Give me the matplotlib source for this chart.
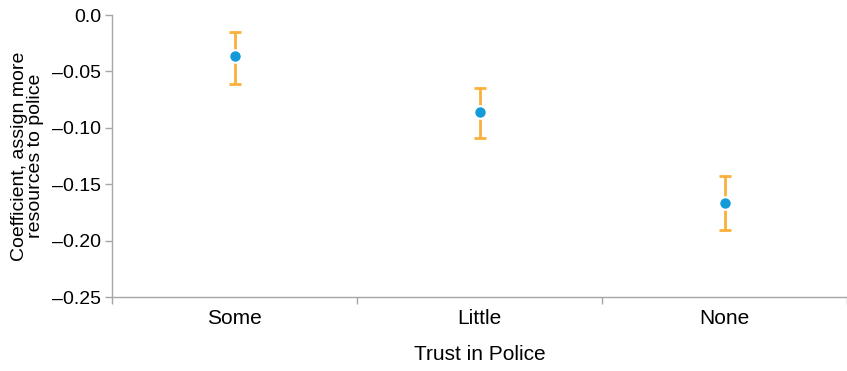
import matplotlib
matplotlib.use('Agg')
import matplotlib.pyplot as plt
import numpy as np

plt.rcParams.update({
    'font.family': ['Liberation Sans', 'DejaVu Sans'],
    'font.size': 15,
    'axes.linewidth': 1.0,
})

# Data
categories = ['Some', 'Little', 'None']
coef = [-0.036, -0.086, -0.167]
ci_low = [-0.061, -0.109, -0.191]
ci_high = [-0.015, -0.065, -0.143]

point_color = '#139bd8'
bar_color = '#fbb03b'
axis_color = '#a6a6a6'

fig = plt.figure(figsize=(8.47, 3.71), dpi=100)
ax = fig.add_axes([112 / 847, 1 - 297 / 371, 735 / 847, (297 - 15) / 371])

x = np.arange(len(categories))
coef_arr = np.array(coef)
yerr = [coef_arr - np.array(ci_low), np.array(ci_high) - coef_arr]

ax.errorbar(x, coef, yerr=yerr, fmt='none', ecolor=bar_color,
            elinewidth=2, capsize=4.5, capthick=2, zorder=2)
ax.plot(x, coef, 'o', color=point_color, markersize=9,
        markeredgecolor='white', markeredgewidth=1.5, zorder=3)

ax.set_xlim(-0.5, len(categories) - 0.5)
ax.set_ylim(-0.25, 0.0)

# category labels centered, small ticks at the boundaries
ax.set_xticks(x)
ax.set_xticklabels(categories)
ax.set_xticks(np.arange(len(categories) + 1) - 0.5, minor=True)
ax.tick_params(axis='x', which='major', length=0, pad=9, labelsize=15)
ax.tick_params(axis='x', which='minor', length=5, color=axis_color, width=1)

yticks = np.arange(-0.25, 0.001, 0.05)
ax.set_yticks(yticks)
ax.set_yticklabels(['0.0' if abs(v) < 1e-9 else f'{v:.2f}'.replace('-', '\u2013')
                    for v in yticks])
ax.tick_params(axis='y', length=5, color=axis_color, width=1, pad=3, labelsize=14)

for side in ['top', 'right']:
    ax.spines[side].set_visible(False)
for side in ['left', 'bottom']:
    ax.spines[side].set_color(axis_color)

ax.set_xlabel('Trust in Police', fontsize=15, labelpad=12)
ax.set_ylabel('Coefficient, assign more\nresources to police', fontsize=14,
              linespacing=0.9)
ax.yaxis.set_label_coords(-0.093, 0.5)

fig.savefig('out.png', dpi=100, facecolor='white')
